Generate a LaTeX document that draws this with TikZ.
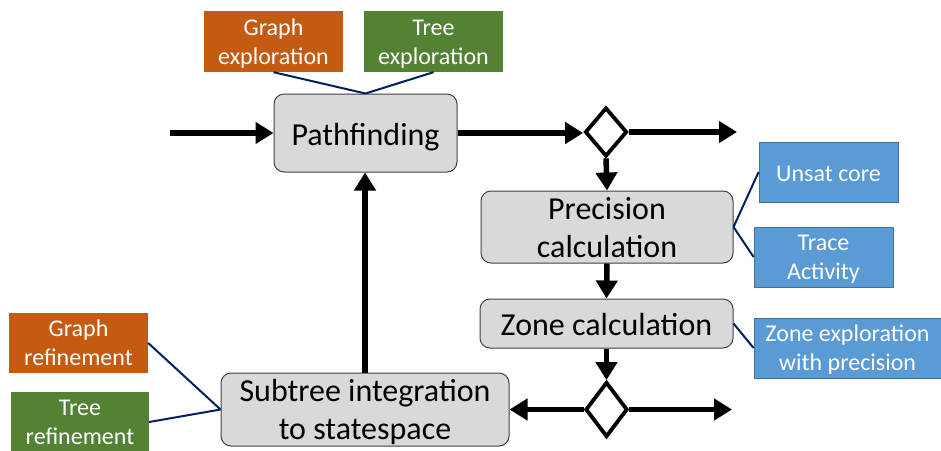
\documentclass[tikz,border=0pt]{standalone}
\usepackage{fontspec}
\setmainfont{Carlito}
\usetikzlibrary{shapes.geometric,arrows.meta}
\definecolor{procfill}{HTML}{D9D9D9}
\definecolor{procdraw}{HTML}{404040}
\definecolor{orangebox}{HTML}{C55A11}
\definecolor{greenbox}{HTML}{548235}
\definecolor{bluebox}{HTML}{5B9BD5}
\definecolor{blueedge}{HTML}{41719C}
\definecolor{navyline}{HTML}{002060}
\tikzset{
  proc/.style={draw=procdraw, fill=procfill, line width=1pt, rounded corners=10pt,
    inner sep=0pt, align=center, font=\fontsize{32}{38}\selectfont,
    text height=30pt, text depth=6pt},
  proctwo/.style={proc, text height=66pt, text depth=6pt},
  tag/.style={inner sep=0pt, align=center, text=white, font=\fontsize{24}{29}\selectfont,
    minimum width=139pt, minimum height=60pt, text height=50pt, text depth=5pt},
  tagone/.style={text height=23pt, text depth=5pt},
  orangetag/.style={tag, fill=orangebox},
  greentag/.style={tag, fill=greenbox},
  bluetag/.style={tag, fill=bluebox, draw=blueedge, line width=0.8pt},
  decision/.style={diamond, draw=black, fill=white, line width=3.8pt, inner sep=0pt,
    minimum width=42pt, minimum height=49pt},
  flow/.style={line width=5.5pt, -{Triangle[length=18pt,width=21pt]}},
  link/.style={draw=navyline, line width=2pt}
}
\begin{document}
\begin{tikzpicture}[x=1pt,y=-1pt]
\useasboundingbox (0,0) rectangle (941,450);
% process boxes
\node[proc, minimum width=183pt, minimum height=78pt] (path) at (365.5,133) {Pathfinding};
\node[proctwo, minimum width=252pt, minimum height=72pt] (prec) at (607,227) {Precision\\calculation};
\node[proc, minimum width=253pt, minimum height=49pt] (zone) at (606.5,323.5) {Zone calculation};
\node[proctwo, minimum width=288pt, minimum height=73pt] (sub) at (365,409.5) {Subtree integration\\to statespace};
% decisions
\node[decision] (d1) at (606,132) {};
\node[decision, minimum height=55pt] (d2) at (606.5,409.5) {};
% tags
\node[orangetag, minimum height=61pt] (gexp) at (273.5,41.5) {Graph\\exploration};
\node[greentag, minimum height=61pt] (texp) at (433.5,41.5) {Tree\\exploration};
\node[bluetag, tagone] (unsat) at (828.5,172) {Unsat core};
\node[bluetag] (trace) at (823.5,257) {Trace\\Activity};
\node[bluetag, minimum width=187pt] (zexp) at (847.5,348) {Zone exploration\\with precision};
\node[orangetag] (grefn) at (78.5,343) {Graph\\refinement};
\node[greentag, minimum width=138pt] (trefn) at (80,422) {Tree\\refinement};
% free ends
\coordinate (in) at (170,133);
\coordinate (out1) at (737,132);
\coordinate (out2) at (732,409.5);
% flow arrows
\draw[flow] (in) -- (path.west);
\draw[flow] (path.east) -- (path.east -| d1.west);
\draw[flow] (d1.east) -- (out1);
\draw[flow] (d1.south) -- (prec.north);
\draw[flow] (prec.south) -- (zone.north);
\draw[flow] (zone.south) -- (d2.north);
\draw[flow] (d2.east) -- (out2);
\draw[flow] (d2.west) -- (sub.east);
\draw[flow] (sub.north) -- (sub.north |- path.south);
% annotation links
\draw[link] (gexp.south) -- (path.north);
\draw[link] (texp.south) -- (path.north);
\draw[link] (prec.east) -- (unsat.west);
\draw[link] (prec.east) -- (trace.west);
\draw[link] (zone.east) -- (zexp.west);
\draw[link] (grefn.east) -- (sub.west);
\draw[link] (trefn.east) -- (sub.west);
\end{tikzpicture}
\end{document}
